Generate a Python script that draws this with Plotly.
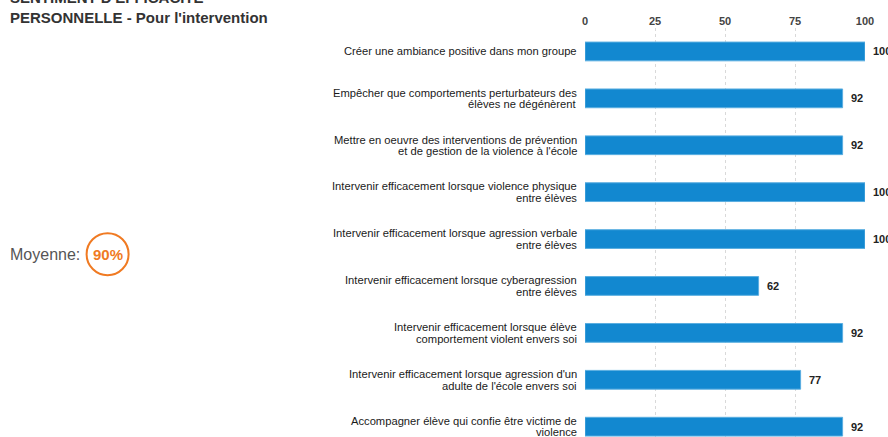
import plotly.graph_objects as go

categories = [
    "Créer une ambiance positive dans mon groupe",
    "Empêcher que comportements perturbateurs des<br>élèves ne dégénèrent",
    "Mettre en oeuvre des interventions de prévention<br>et de gestion de la violence à l'école",
    "Intervenir efficacement lorsque violence physique<br>entre élèves",
    "Intervenir efficacement lorsque agression verbale<br>entre élèves",
    "Intervenir efficacement lorsque cyberagression<br>entre élèves",
    "Intervenir efficacement lorsque élève<br>comportement violent envers soi",
    "Intervenir efficacement lorsque agression d'un<br>adulte de l'école envers soi",
    "Accompagner élève qui confie être victime de<br>violence",
]
values = [100, 92, 92, 100, 100, 62, 92, 77, 92]
x_ticks = [0, 25, 50, 75, 100]
title_text = "SENTIMENT D'EFFICACITÉ<br>PERSONNELLE - Pour l'intervention"
average_label = "Moyenne:"
average_value = "90%"

BAR = "#1288d0"
ORANGE = "#f07a22"
FONT = "Liberation Sans, Arial"

fig = go.Figure(go.Bar(
    x=values, y=categories, orientation="h",
    marker=dict(color=BAR, line=dict(color="#5aaee0", width=1)),
    width=0.4,
    hoverinfo="skip",
))

fig.update_layout(
    width=888, height=437,
    margin=dict(l=585, r=23, t=28, b=0),
    paper_bgcolor="white", plot_bgcolor="white",
    showlegend=False,
    font=dict(family=FONT, size=11, color="#222"),
)
fig.update_xaxes(
    side="top", range=[0, 100], tickvals=x_ticks,
    ticktext=[f"<b>{t}</b>" for t in x_ticks],
    tickfont=dict(size=11, color="#444"),
    showgrid=True, gridcolor="#d9d9d9", griddash="dot", gridwidth=1,
    zeroline=False, showline=False, ticks="",
)
fig.update_yaxes(
    range=[8.22, -0.5], showgrid=False, zeroline=False, showline=False,
    ticks="", showticklabels=False,
)

# category labels, drawn line by line for tighter line spacing
LINE_H = 11.5
for cat in categories:
    lines = cat.split("<br>")
    n = len(lines)
    for i, line in enumerate(lines):
        fig.add_annotation(
            text=line, xref="paper", yref="y", x=0, y=cat,
            xanchor="right", yanchor="middle", xshift=-6,
            yshift=((n - 1) / 2 - i) * LINE_H,
            showarrow=False, font=dict(family=FONT, size=11.2, color="#1a1a1a"),
        )

# value labels
for cat, v in zip(categories, values):
    fig.add_annotation(
        text=f"<b>{v}</b>", xref="x", yref="y", x=v, y=cat,
        xanchor="left", yanchor="middle", xshift=6,
        showarrow=False, font=dict(family=FONT, size=11, color="#222"),
    )

fig.add_annotation(
    text=f"<b>{title_text}</b>", xref="paper", yref="paper",
    x=-2.053, y=1.0, xanchor="left", yanchor="bottom",
    xshift=-2, yshift=0, showarrow=False, align="left",
    font=dict(family=FONT, size=15, color="#333"),
)
fig.add_annotation(
    text=average_label, xref="paper", yref="paper",
    x=-2.053, y=0.447, xanchor="left", yanchor="middle", xshift=-2,
    showarrow=False, font=dict(family=FONT, size=16, color="#555"),
)
fig.add_annotation(
    text=f"<b>{average_value}</b>", xref="paper", yref="paper",
    x=-1.705, y=0.447, xanchor="center", yanchor="middle",
    showarrow=False, font=dict(family=FONT, size=15, color=ORANGE),
)
fig.add_shape(
    type="circle", xref="paper", yref="paper",
    xsizemode="pixel", ysizemode="pixel",
    xanchor=-1.705, yanchor=0.447,
    x0=-21, x1=21, y0=-21, y1=21,
    line=dict(color=ORANGE, width=2),
)

fig.write_html("out.html", config={"displayModeBar": False},
               post_script="document.body.style.margin='0';")
